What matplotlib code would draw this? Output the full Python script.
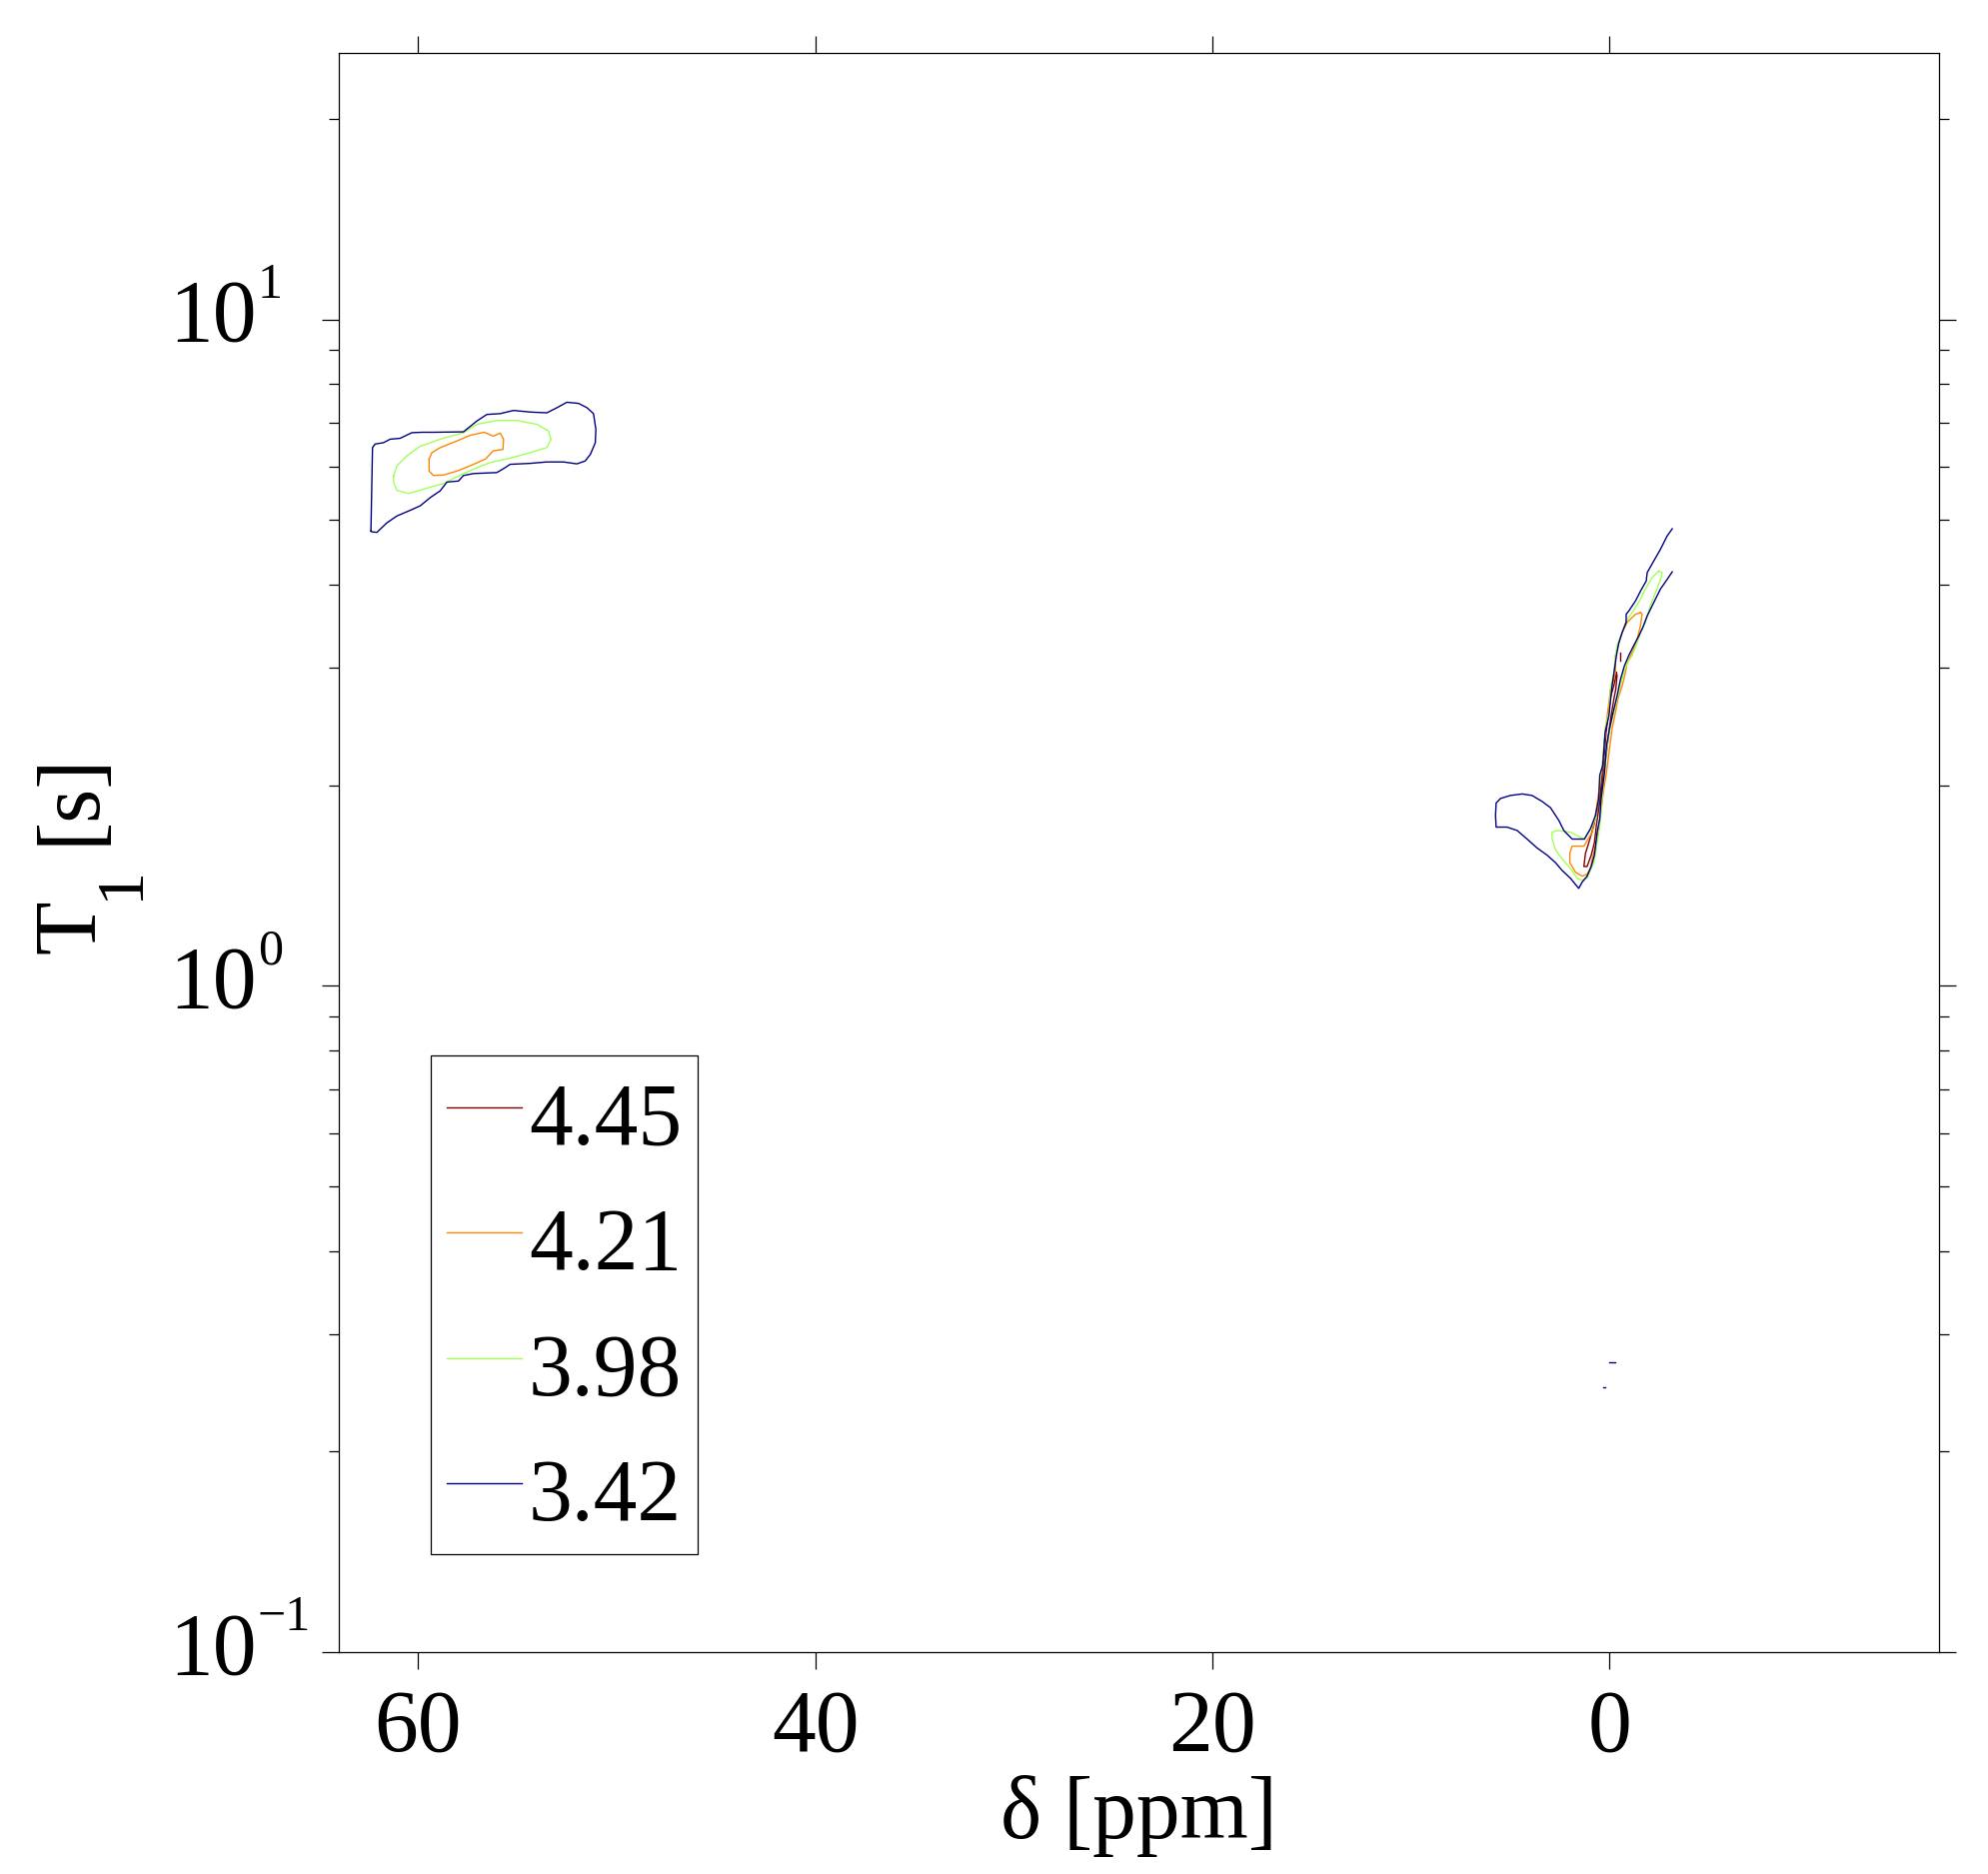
import matplotlib
matplotlib.use('Agg')
import matplotlib.pyplot as plt
from matplotlib import cm, colors
from matplotlib import transforms as mtransforms
from matplotlib.ticker import LogLocator, NullFormatter

plt.rcParams['font.family'] = ['Liberation Serif', 'DejaVu Serif']
plt.rcParams['mathtext.fontset'] = 'custom'
plt.rcParams['mathtext.rm'] = 'Liberation Serif'

# contour levels (legend order: highest first)
levels = [4.45, 4.21, 3.98, 3.42]

# axis ticks
x_ticks = [60, 40, 20, 0]
y_ticks = [0.1, 1, 10]
y_exponents = ['\u22121', '0', '1']

# outlines: chemical shift [ppm] and T1 [s]
# level 3.42, peak near 57 ppm
blue_a_ppm = [62.38, 62.30, 62.17, 61.75, 61.41, 60.91, 60.32, 59.81, 59.23, 57.72, 57.04,
              56.54, 55.87, 55.20, 54.36, 53.52, 53.01, 52.51, 51.92, 51.50, 51.17, 51.05,
              51.08, 51.33, 51.59, 52.01, 52.68, 53.52, 54.36, 55.37, 55.70, 56.04, 57.21,
              57.72, 57.97, 58.55, 58.89, 59.40, 59.90, 60.40, 61.07, 61.58, 62.08, 62.33, 62.38]
blue_a_t1 = [4.81, 6.42, 6.50, 6.53, 6.61, 6.63, 6.76, 6.77, 6.77, 6.78, 7.04,
             7.20, 7.22, 7.30, 7.26, 7.24, 7.37, 7.51, 7.48, 7.37, 7.22, 6.84,
             6.53, 6.27, 6.13, 6.07, 6.11, 6.11, 6.08, 6.06, 5.97, 5.89, 5.87,
             5.83, 5.72, 5.70, 5.53, 5.40, 5.25, 5.17, 5.07, 4.95, 4.79, 4.80, 4.81]

# level 3.42, peak near 0 ppm (open at the data edge)
blue_b_ppm = [-3.16, -2.90, -2.57, -2.23, -1.90, -1.85, -1.56, -1.31, -0.97, -0.84, -0.84,
              -0.64, -0.47, -0.35, -0.13, 0.03, 0.22, 0.34, 0.49, 0.54, 0.71, 0.96, 1.26,
              1.88, 2.30, 2.55, 2.97, 3.39, 3.90, 4.40, 4.99, 5.49, 5.71, 5.74, 5.71, 5.16,
              4.65, 4.15, 3.65, 3.14, 2.72, 2.39, 1.97, 1.55, 1.38, 1.13, 0.92, 0.76, 0.62,
              0.49, 0.42, 0.25, 0.15, 0.00, -0.18, -0.38, -0.55, -0.75, -0.97, -1.22, -1.48,
              -1.68, -1.90, -2.23, -2.57, -2.90, -3.16]
blue_b_t1 = [4.85, 4.73, 4.52, 4.34, 4.17, 4.05, 3.91, 3.78, 3.65, 3.61, 3.51,
             3.39, 3.27, 3.13, 2.82, 2.54, 2.40, 2.14, 2.07, 1.91, 1.80, 1.72, 1.66,
             1.66, 1.71, 1.77, 1.85, 1.89, 1.93, 1.94, 1.93, 1.91, 1.88, 1.80, 1.73, 1.73,
             1.71, 1.66, 1.61, 1.57, 1.53, 1.49, 1.45, 1.40, 1.43, 1.46, 1.51, 1.57, 1.70,
             1.78, 1.91, 2.09, 2.29, 2.43, 2.57, 2.72, 2.88, 3.02, 3.13, 3.24, 3.35,
             3.45, 3.59, 3.76, 3.94, 4.07, 4.18]

# level 3.42, small specks near 0 ppm
blue_c_ppm = [0.00, -0.30]
blue_c_t1 = [0.272, 0.272]
blue_d_ppm = [0.30, 0.20]
blue_d_t1 = [0.250, 0.250]

# level 3.98
green_a_ppm = [61.24, 61.07, 60.57, 59.90, 58.89, 57.72, 57.04, 56.04, 55.03, 54.02, 53.44,
               53.31, 53.52, 54.36, 55.37, 56.37, 57.04, 57.72, 58.73, 59.40, 59.90, 60.49,
               61.07, 61.24, 61.24]
green_a_t1 = [5.82, 6.03, 6.24, 6.45, 6.61, 6.76, 6.96, 7.05, 7.05, 6.96, 6.80,
              6.61, 6.42, 6.31, 6.19, 6.10, 5.99, 5.87, 5.67, 5.60, 5.54, 5.48,
              5.54, 5.69, 5.82]
green_b_ppm = [-2.48, -2.15, -1.81, -1.56, -1.14, -0.80, -0.64, -0.38, -0.30, -0.22, -0.08,
               0.03, 0.20, 0.37, 0.45, 0.54, 0.71, 0.96, 1.29, 1.97, 2.64, 2.89, 2.89, 2.72,
               2.39, 1.97, 1.63, 1.38, 1.13, 0.96, 0.79, 0.71, 0.54, 0.45, 0.37, 0.25, 0.15,
               0.03, -0.22, -0.38, -0.55, -0.72, -0.89, -1.14, -1.39, -1.56, -1.81, -2.06,
               -2.32, -2.57, -2.65, -2.48]
green_b_t1 = [4.19, 4.10, 3.94, 3.80, 3.63, 3.51, 3.39, 3.24, 3.13, 2.95, 2.82,
              2.57, 2.45, 2.14, 2.07, 1.91, 1.78, 1.72, 1.66, 1.70, 1.71, 1.70, 1.66, 1.60,
              1.55, 1.50, 1.45, 1.44, 1.45, 1.49, 1.53, 1.58, 1.70, 1.78, 1.91, 2.09, 2.24,
              2.40, 2.57, 2.69, 2.82, 2.95, 3.05, 3.13, 3.27, 3.39, 3.51, 3.72,
              3.89, 4.07, 4.17, 4.19]

# level 4.21
orange_a_ppm = [59.45, 59.31, 58.89, 58.05, 57.38, 56.68, 56.21, 55.87, 55.70, 55.73, 56.21,
                56.62, 57.38, 58.05, 58.73, 59.23, 59.45, 59.45]
orange_a_t1 = [6.17, 6.31, 6.42, 6.57, 6.70, 6.77, 6.68, 6.75, 6.61, 6.38, 6.35,
               6.17, 6.03, 5.92, 5.84, 5.83, 5.92, 6.17]
orange_b_ppm = [-1.56, -1.31, -0.89, -0.64, -0.47, -0.30, -0.30, -0.18, -0.05, 0.03, 0.20,
                0.32, 0.49, 0.62, 0.71, 0.87, 1.29, 1.88, 2.00, 2.00, 1.71, 1.38, 1.13, 0.96,
                0.87, 0.71, 0.54, 0.42, 0.29, 0.15, -0.02, -0.13, -0.30, -0.42, -0.64, -0.80,
                -0.89, -1.14, -1.39, -1.56, -1.64, -1.56]
orange_b_t1 = [3.63, 3.61, 3.51, 3.39, 3.27, 3.13, 2.95, 2.85, 2.79, 2.66, 2.43,
               2.19, 2.00, 1.88, 1.80, 1.70, 1.62, 1.62, 1.58, 1.53, 1.48, 1.46, 1.47, 1.50,
               1.55, 1.62, 1.72, 1.84, 1.97, 2.09, 2.29, 2.43, 2.57, 2.69, 2.82, 2.95,
               3.05, 3.16, 3.31, 3.47, 3.61, 3.63]

# level 4.45
red_a_ppm = [-0.35, -0.22, -0.05, 0.07, 0.17, 0.25, 0.37, 0.49, 0.62, 0.79, 1.04, 1.21, 1.29,
             1.13, 0.92, 0.76, 0.66, 0.54, 0.42, 0.29, 0.15, 0.03, -0.08, -0.22, -0.32,
             -0.38, -0.35]
red_a_t1 = [2.95, 2.82, 2.71, 2.54, 2.40, 2.24, 2.09, 1.95, 1.84, 1.74, 1.64, 1.58, 1.51,
            1.51, 1.57, 1.64, 1.74, 1.84, 1.95, 2.09, 2.24, 2.40, 2.54, 2.69, 2.79,
            2.92, 2.95]
red_b_ppm = [-0.55, -0.55]
red_b_t1 = [3.08, 3.16]

outlines = {
    4.45: [(red_a_ppm, red_a_t1), (red_b_ppm, red_b_t1)],
    4.21: [(orange_a_ppm, orange_a_t1), (orange_b_ppm, orange_b_t1)],
    3.98: [(green_a_ppm, green_a_t1), (green_b_ppm, green_b_t1)],
    3.42: [(blue_a_ppm, blue_a_t1), (blue_b_ppm, blue_b_t1),
           (blue_c_ppm, blue_c_t1), (blue_d_ppm, blue_d_t1)],
}

norm = colors.Normalize(vmin=min(levels), vmax=max(levels))

fig = plt.figure(figsize=(19.89, 18.75), dpi=100)
ax = fig.add_axes([0.1704, 0.1184, 0.805, 0.8533])

for lev in levels:
    col = cm.jet(norm(lev))
    for i, (xs, ys) in enumerate(outlines[lev]):
        ax.plot(xs, ys, color=col, lw=1.0, label=f'{lev:.2f}' if i == 0 else None)

ax.set_yscale('log')
ax.set_xlim(64, -16.6)
ax.set_ylim(0.1, 25.1)

ax.set_xticks(x_ticks)
ax.set_yticks(y_ticks, labels=['10'] * len(y_ticks))
ax.yaxis.set_minor_locator(LogLocator(base=10, subs=range(2, 10)))
ax.yaxis.set_minor_formatter(NullFormatter())
for lbl in ax.get_yticklabels():
    lbl.set_horizontalalignment('left')
    lbl.set_verticalalignment('center')

ax.tick_params(which='both', direction='out', top=True, right=True, labelsize=63,
               width=0.9, colors='black')
ax.tick_params(which='major', length=12)
ax.tick_params(which='minor', length=7)
ax.tick_params(axis='x', pad=14)
ax.tick_params(axis='y', pad=110.4)
for sp in ax.spines.values():
    sp.set_linewidth(0.9)

# exponents of the y tick labels
exp_trans = ax.get_yaxis_transform() + mtransforms.ScaledTranslation(0, 0.22, fig.dpi_scale_trans)
for yt, ex in zip(y_ticks, y_exponents):
    ax.text(-0.0506, yt, ex, transform=exp_trans, fontsize=36, ha='left', va='baseline',
            clip_on=False)

ax.set_xlabel('\u03b4 [ppm]', fontsize=63, labelpad=4)

# y label: T with a large, low subscript, then [s]
lab_kw = dict(rotation=90, rotation_mode='anchor', ha='left', va='baseline')
fig.text(0.0468, 0.4912, 'T', fontsize=63, **lab_kw)
fig.text(0.0694, 0.5200, '1', fontsize=49, **lab_kw)
fig.text(0.0468, 0.5493, '[s]', fontsize=63, **lab_kw)

leg = ax.legend(loc='lower left', bbox_to_anchor=(0.0575, 0.061), borderaxespad=0,
                fontsize=63, handlelength=0.86, handleheight=1.15, handletextpad=0.08,
                borderpad=0.18, labelspacing=0.38, fancybox=False, framealpha=1,
                edgecolor='black')
leg.get_frame().set_linewidth(0.9)

fig.savefig('out.png', dpi=100, facecolor='white')
